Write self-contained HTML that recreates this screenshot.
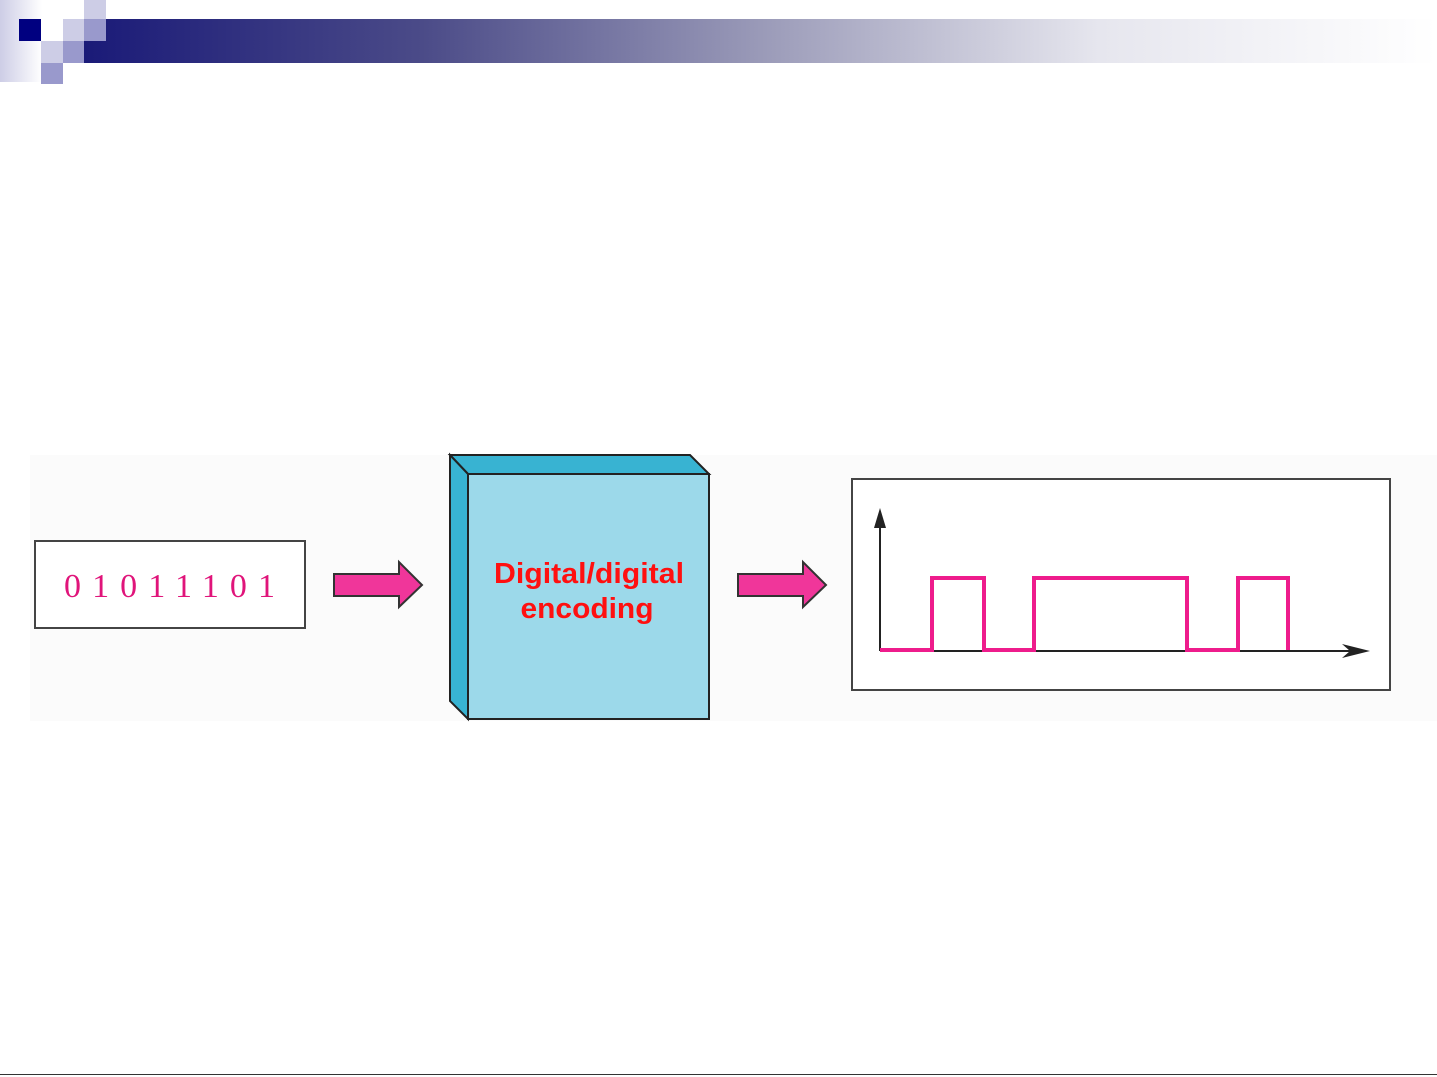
<!DOCTYPE html>
<html><head><style>
body{margin:0;width:1437px;height:1077px;background:#fff;position:relative;overflow:hidden}
.s{position:absolute}
</style></head><body>
<div class="s" style="left:0;top:0;width:42px;height:82px;background:linear-gradient(90deg,#cdcde6,#fff)"></div>
<div class="s" style="left:84px;top:19px;width:1353px;height:44px;background:linear-gradient(90deg,#1a1a78 0%,#4b4b88 25%,#9a9ab8 50%,#e6e6ee 75%,#fff 100%)"></div>
<div class="s" style="left:19px;top:19px;width:22px;height:22px;background:#000080"></div>
<div class="s" style="left:41px;top:19px;width:22px;height:22px;background:#fff"></div>
<div class="s" style="left:63px;top:19px;width:21px;height:22px;background:#cdcde6"></div>
<div class="s" style="left:84px;top:19px;width:22px;height:22px;background:#9999cc"></div>
<div class="s" style="left:84px;top:0;width:22px;height:19px;background:#cdcde6"></div>
<div class="s" style="left:41px;top:41px;width:22px;height:22px;background:#cdcde6"></div>
<div class="s" style="left:63px;top:41px;width:21px;height:22px;background:#9999cc"></div>
<div class="s" style="left:41px;top:63px;width:22px;height:21px;background:#9999cc"></div>
<div class="s" style="left:0;top:1074px;width:1437px;height:1px;background:#333"></div>
<svg class="s" style="left:0;top:0" width="1437" height="1077">
<rect x="30" y="455" width="1407" height="266" fill="#fbfbfb"/>
<rect x="35" y="541" width="270" height="87" fill="#fff" stroke="#444" stroke-width="2"/>
<text x="64" y="597" font-family="Liberation Serif" font-size="34" fill="#e0147a" textLength="211" lengthAdjust="spacing">01011101</text>
<polygon points="334,574 399,574 399,562 422,585 399,607 399,596 334,596" fill="#f0369a" stroke="#333" stroke-width="2"/>
<polygon points="738,574 803,574 803,562 826,585 803,607 803,596 738,596" fill="#f0369a" stroke="#333" stroke-width="2"/>
<polygon points="450,455 690,455 709,474 468,474" fill="#38b3d2" stroke="#222" stroke-width="2"/>
<polygon points="450,455 468,474 468,719 450,701" fill="#38b3d2" stroke="#222" stroke-width="2"/>
<rect x="468" y="474" width="241" height="245" fill="#9cd9ea" stroke="#222" stroke-width="2"/>
<text x="589" y="583" font-family="Liberation Sans" font-weight="bold" font-size="29" fill="#ff1010" text-anchor="middle" textLength="190" lengthAdjust="spacingAndGlyphs">Digital/digital</text>
<text x="587" y="618" font-family="Liberation Sans" font-weight="bold" font-size="29" fill="#ff1010" text-anchor="middle" textLength="133" lengthAdjust="spacingAndGlyphs">encoding</text>
<rect x="852" y="479" width="538" height="211" fill="#fff" stroke="#444" stroke-width="2"/>
<line x1="880" y1="651" x2="880" y2="520" stroke="#222" stroke-width="2"/>
<polygon points="880,508 874,528 886,528" fill="#222"/>
<line x1="880" y1="651" x2="1355" y2="651" stroke="#222" stroke-width="2"/>
<polygon points="1370,651 1342,644 1350,651 1342,658" fill="#222"/>
<polyline points="880,650 932,650 932,578 984,578 984,650 1034,650 1034,578 1187,578 1187,650 1238,650 1238,578 1288,578 1288,650" fill="none" stroke="#ee1c8c" stroke-width="4"/>
</svg>
</body></html>
